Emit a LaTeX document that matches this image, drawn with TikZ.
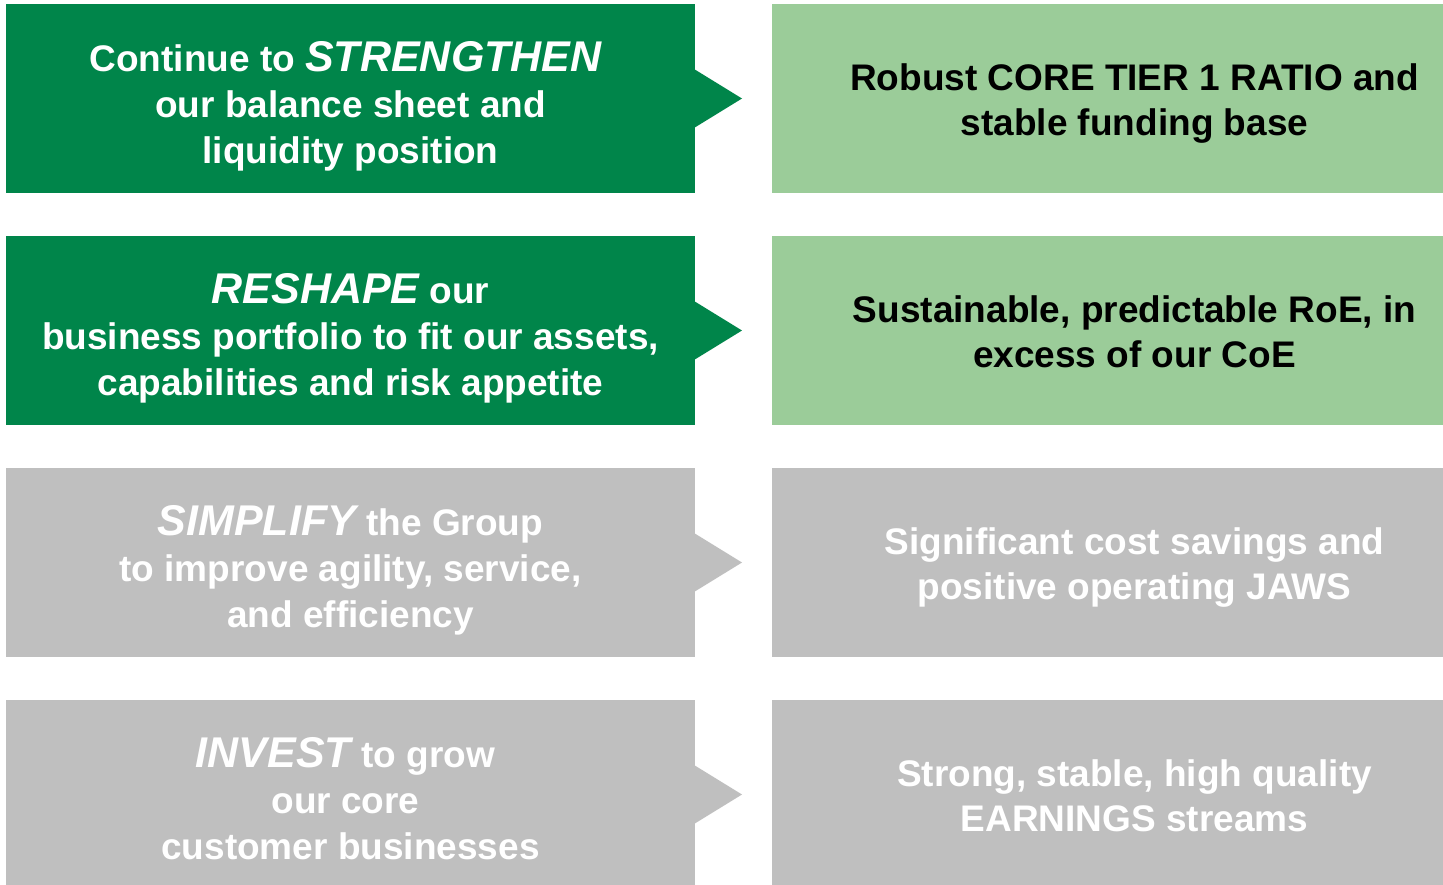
\documentclass[tikz,border=0pt]{standalone}
\usepackage{fontspec}
\setmainfont{Liberation Sans}
\definecolor{dkgreen}{RGB}{0,133,74}
\definecolor{ltgreen}{RGB}{155,204,153}
\definecolor{boxgray}{RGB}{191,191,191}
\begin{document}
\begin{tikzpicture}[x=1pt,y=-1pt,
  leftbox/.style={rectangle,fill=#1,draw=none,inner sep=0pt,outer sep=0pt,anchor=north west,minimum width=689pt,minimum height=189pt},
  rightbox/.style={rectangle,fill=#1,draw=none,inner sep=0pt,outer sep=0pt,anchor=north west,minimum width=671pt,minimum height=189pt},
  lefttext/.style={text=#1,align=center,inner sep=0pt,font=\fontsize{37}{46}\selectfont\bfseries},
  righttext/.style={text=#1,align=center,inner sep=0pt,font=\fontsize{37}{45}\selectfont\bfseries},
]
\clip (0,0) rectangle (1443,884);
\fill[white] (0,0) rectangle (1443,884);
\newcommand{\bigit}[1]{{\fontsize{43}{46}\selectfont\itshape #1}}
\newcommand{\ph}{\vphantom{bg}}
% row boxes
\node[leftbox=dkgreen] (L1) at (6,4) {};
\node[leftbox=dkgreen] (L2) at (6,236) {};
\node[leftbox=boxgray] (L3) at (6,468) {};
\node[leftbox=boxgray] (L4) at (6,700) {};
\node[rightbox=ltgreen] (R1) at (772,4) {};
\node[rightbox=ltgreen] (R2) at (772,236) {};
\node[rightbox=boxgray] (R3) at (772,468) {};
\node[rightbox=boxgray] (R4) at (772,700) {};
% arrow heads
\fill[dkgreen] ([xshift=-1pt,yshift=-29.5pt]L1.east) -- ([xshift=47pt]L1.east) -- ([xshift=-1pt,yshift=29.5pt]L1.east) -- cycle;
\fill[dkgreen] ([xshift=-1pt,yshift=-29.5pt]L2.east) -- ([xshift=47pt]L2.east) -- ([xshift=-1pt,yshift=29.5pt]L2.east) -- cycle;
\fill[boxgray] ([xshift=-1pt,yshift=-29.5pt]L3.east) -- ([xshift=47pt]L3.east) -- ([xshift=-1pt,yshift=29.5pt]L3.east) -- cycle;
\fill[boxgray] ([xshift=-1pt,yshift=-29.5pt]L4.east) -- ([xshift=47pt]L4.east) -- ([xshift=-1pt,yshift=29.5pt]L4.east) -- cycle;
% texts
\node[lefttext=white] (T1) at (350.5,106.5) {\ph Continue to \bigit{STRENGTHEN}\kern10pt\\our balance sheet and\\liquidity position\ph};
\node[lefttext=white] (T2) at (350.5,338.5) {\ph\bigit{RESHAPE} our\\business portfolio to fit our assets,\\capabilities and risk appetite\ph};
\node[lefttext=white] (T3) at (350.5,570.5) {\ph\bigit{SIMPLIFY} the Group\\to improve agility, service,\\and efficiency\ph};
\node[lefttext=white] (T4) at (350.5,802.5) {\ph\bigit{INVEST} to grow\kern10pt\\our core\kern10pt\\customer businesses\ph};
\node[righttext=black] (S1) at (1134.5,104) {\ph Robust CORE TIER 1 RATIO and\\stable funding base\ph};
\node[righttext=black] (S2) at (1134.5,336) {\ph Sustainable, predictable RoE, in\\excess of our CoE\ph};
\node[righttext=white] (S3) at (1134.5,568) {\ph Significant cost savings and\\positive operating JAWS\ph};
\node[righttext=white] (S4) at (1134.5,800) {\ph Strong, stable, high quality\\EARNINGS streams\ph};
\end{tikzpicture}
\end{document}
